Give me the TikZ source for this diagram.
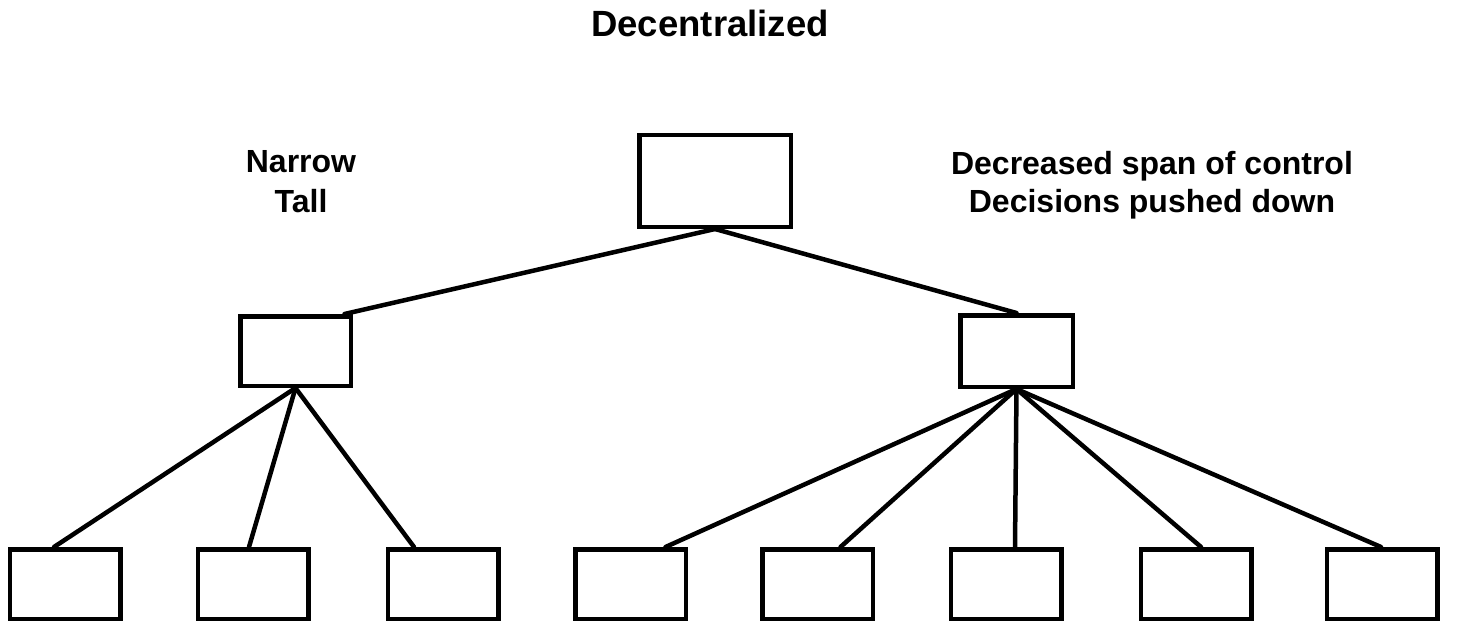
\documentclass[tikz,border=0pt]{standalone}
\usepackage{fontspec}
\setmainfont{Liberation Sans}
\begin{document}
\begin{tikzpicture}[x=1pt,y=-1pt,
  box/.style={draw,line width=4.5pt,inner sep=0pt,minimum width=110.5pt,minimum height=69.5pt},
  link/.style={line width=4.5pt,line cap=round},
  lbl/.style={font=\fontsize{32}{38}\selectfont\bfseries,anchor=base,inner sep=0pt},
  ttl/.style={font=\fontsize{36.5}{42}\selectfont\bfseries,anchor=base,inner sep=0pt}]
\useasboundingbox (0,0) rectangle (1457,623);
% texts
\node[ttl] (title) at (710,37) {Decentralized};
\node[lbl] (narrow) at (301,173) {Narrow};
\node[lbl] (tall) at (301,212) {Tall};
\node[lbl] (span) at (1152,175) {Decreased span of control};
\node[lbl] (push) at (1152,212) {Decisions pushed down};
% boxes
\node[box,minimum width=151.5pt,minimum height=91.5pt] (top) at (715,181) {};
\node[box] (lm) at (295.5,351) {};
\node[box,minimum width=112.5pt,minimum height=71.5pt] (rm) at (1016.5,351) {};
\node[box] (b1) at (65,584) {};
\node[box] (b2) at (253,584) {};
\node[box] (b3) at (443,584) {};
\node[box] (b4) at (630.5,584) {};
\node[box] (b5) at (817.5,584) {};
\node[box] (b6) at (1006,584) {};
\node[box] (b7) at (1196,584) {};
\node[box] (b8) at (1382,584) {};
% connectors
\draw[link] (top.south) -- ([xshift=49pt]lm.north);
\draw[link] (top.south) -- (rm.north);
\draw[link] (lm.south) -- ([xshift=-11pt]b1.north);
\draw[link] (lm.south) -- ([xshift=-4pt]b2.north);
\draw[link] (lm.south) -- ([xshift=-29pt]b3.north);
\draw[link] (rm.south) -- ([xshift=35pt]b4.north);
\draw[link] (rm.south) -- ([xshift=23pt]b5.north);
\draw[link] (rm.south) -- ([xshift=9pt]b6.north);
\draw[link] (rm.south) -- ([xshift=5pt]b7.north);
\draw[link] (rm.south) -- ([xshift=-1pt]b8.north);
\end{tikzpicture}
\end{document}
